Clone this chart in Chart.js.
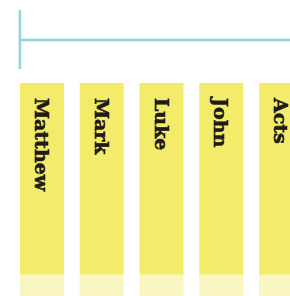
<!DOCTYPE html>
<html>
<head>
<meta charset="utf-8">
<script src="https://cdn.jsdelivr.net/npm/chart.js@4"></script>
<style>
  html, body { margin: 0; padding: 0; background: #fff; overflow: hidden; }
  #wrap { width: 290px; height: 296px; overflow: hidden; }
</style>
</head>
<body>
<div id="wrap"><canvas id="myChart" width="311" height="296"></canvas></div>
<script>
// books shown, left to right
var books = ["Matthew", "Mark", "Luke", "John", "Acts"];
// bar is split in two: a pale base and a solid upper part
var baseValues = [10, 10, 10, 10, 10];
var upperValues = [90, 90, 90, 90, 90];

var solidYellow = "#f3ec6a";
var paleYellow = "#f9f6c2";
var teal = "#8dd6dd";

// teal rule above the bars + book names written down inside each bar
var decor = {
    id: "decor",
    afterDatasetsDraw(chart) {
        var ctx = chart.ctx;
        var bars = chart.getDatasetMeta(1).data;
        var first = bars[0];
        var left = first.x - first.width / 2;
        var top = chart.chartArea.top;

        ctx.save();
        ctx.strokeStyle = teal;
        ctx.lineWidth = 2.5;
        ctx.beginPath();
        ctx.moveTo(left, top - 43);
        ctx.lineTo(chart.width, top - 43);
        ctx.moveTo(left, top - 73);
        ctx.lineTo(left, top - 14);
        ctx.stroke();

        ctx.fillStyle = "#1f1b18";
        ctx.font = "bold 19px 'DejaVu Serif'";
        ctx.textAlign = "left";
        ctx.textBaseline = "alphabetic";
        ctx.lineWidth = 0.6;
        ctx.strokeStyle = "#1f1b18";
        bars.forEach(function (bar, i) {
            ctx.save();
            ctx.translate(bar.x - 7, bar.y + 15);
            ctx.rotate(Math.PI / 2);
            ctx.fillText(books[i], 0, 0);
            ctx.strokeText(books[i], 0, 0);
            ctx.restore();
        });
        ctx.restore();
    }
};

new Chart("myChart", {
    type: "bar",
    data: {
        labels: books,
        datasets: [
            { data: baseValues, backgroundColor: paleYellow },
            { data: upperValues, backgroundColor: solidYellow }
        ]
    },
    options: {
        responsive: false,
        animation: false,
        barPercentage: 0.736,
        categoryPercentage: 1,
        layout: { padding: { top: 83, left: 12, right: 0, bottom: 0 } },
        plugins: { legend: { display: false }, tooltip: { enabled: false } },
        scales: {
            x: { display: false, stacked: true },
            y: { display: false, stacked: true, min: 0, max: 100 }
        }
    },
    plugins: [decor]
});
</script>
</body>
</html>
